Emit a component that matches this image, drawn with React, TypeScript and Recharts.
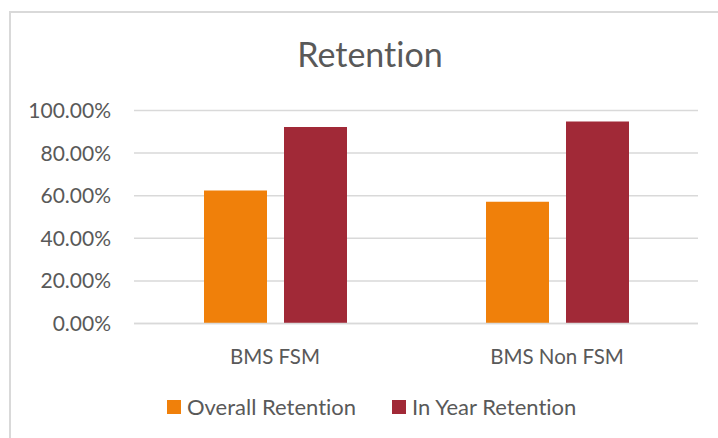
import React from "react";
import { BarChart, Bar, XAxis, YAxis, CartesianGrid, Legend } from "recharts";

const categories = ["BMS FSM", "BMS Non FSM"];
const overallRetention = [0.624, 0.572];
const inYearRetention = [0.922, 0.948];
const yTicks = [0, 0.2, 0.4, 0.6, 0.8, 1.0];
const seriesNames = ["Overall Retention", "In Year Retention"];
const seriesColors = ["#F0800A", "#A12937"];

const data = categories.map((c, i) => ({
  name: c,
  overall: overallRetention[i],
  inYear: inYearRetention[i],
}));

const TEXT = "#595959";
const FONT = "Lato, 'Open Sans', sans-serif";

const renderLegend = () => (
  <div style={{ display: "flex", alignItems: "center", fontFamily: FONT, fontSize: 22, lineHeight: "22px", color: TEXT, whiteSpace: "nowrap", fontVariantLigatures: "none" }}>
    {seriesNames.map((n, i) => (
      <div key={n} style={{ display: "flex", alignItems: "center", marginRight: i === 0 ? 36 : 0 }}>
        <div style={{ width: 14, height: 14, background: seriesColors[i], marginRight: 6 }} />
        <span>{n}</span>
      </div>
    ))}
  </div>
);

export default function App() {
  return (
    <div style={{ position: "relative", width: 718, height: 438, overflow: "hidden", background: "#fff", fontFamily: FONT, fontVariantLigatures: "none" }}>
      <style>{"body{margin:0} svg text{font-variant-ligatures:none}"}</style>
      <div style={{ position: "absolute", left: 9, top: 11, width: 740, height: 460, border: "2px solid #d9d9d9", boxSizing: "border-box" }} />
      <div style={{ position: "absolute", left: 0, width: 740, top: 37, textAlign: "center", fontSize: 34, lineHeight: "34px", color: TEXT }}>
        Retention
      </div>
      <BarChart
        width={718}
        height={438}
        data={data}
        margin={{ top: 110.5, right: 20, bottom: 84.5, left: 74 }}
        barSize={63}
        barGap={17}
        style={{ position: "absolute", left: 0, top: 0 }}
      >
        <CartesianGrid vertical={false} stroke="#d9d9d9" strokeWidth={1.5} />
        <XAxis
          dataKey="name"
          axisLine={{ stroke: "#d9d9d9", strokeWidth: 1.5 }}
          tickLine={false}
          tickMargin={20}
          tick={{ fill: TEXT, fontSize: 20.5, fontFamily: FONT }}
          height={30}
        />
        <YAxis
          domain={[0, 1]}
          ticks={yTicks}
          axisLine={false}
          tickLine={false}
          tickMargin={17}
          width={60}
          tick={{ fill: TEXT, fontSize: 21, fontFamily: FONT }}
          tickFormatter={(v: number) => (v * 100).toFixed(2) + "%"}
        />
        <Legend
          verticalAlign="middle"
          layout="horizontal"
          content={renderLegend}
          wrapperStyle={{ left: 167, top: 396, width: "auto" }}
        />
        <Bar dataKey="overall" name={seriesNames[0]} fill={seriesColors[0]} isAnimationActive={false} />
        <Bar dataKey="inYear" name={seriesNames[1]} fill={seriesColors[1]} isAnimationActive={false} />
      </BarChart>
    </div>
  );
}
